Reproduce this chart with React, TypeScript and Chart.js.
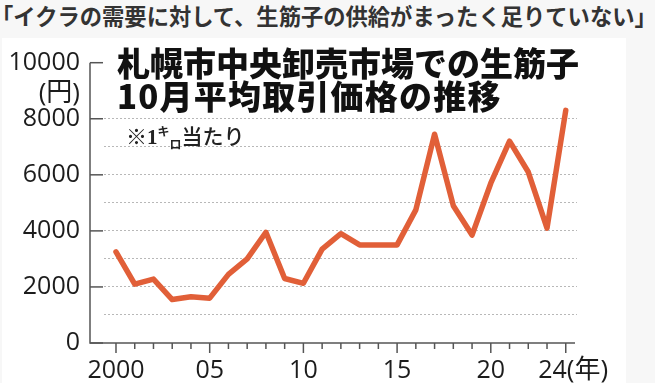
import React, { useEffect, useLayoutEffect, useRef } from 'react';
import { Chart, registerables } from 'chart.js';

Chart.register(...registerables);

// ---- data ----
const years = [2000, 2001, 2002, 2003, 2004, 2005, 2006, 2007, 2008, 2009, 2010, 2011, 2012, 2013, 2014, 2015, 2016, 2017, 2018, 2019, 2020, 2021, 2022, 2023, 2024];
const prices = [3250, 2100, 2280, 1550, 1650, 1600, 2450, 3000, 3950, 2300, 2130, 3350, 3900, 3500, 3500, 3500, 4750, 7450, 4900, 3850, 5700, 7200, 6100, 4100, 8300];
const yTickValues = [0, 2000, 4000, 6000, 8000, 10000];
const yTickLabels = ['0', '2000', '4000', '6000', '8000', '10000'];
const xMajorYears = [2000, 2005, 2010, 2015, 2020, 2024];
const xTickLabels = ['2000', '05', '10', '15', '20', '24'];
const yUnit = '(円)';
const xUnit = '(年)';
const headerText = '「イクラの需要に対して、生筋子の供給がまったく足りていない」';
const titleLines = ['札幌市中央卸売市場での生筋子', '10月平均取引価格の推移'];

const LINE_COLOR = '#e15f38';
const AXIS_COLOR = '#555555';
const LABEL_FONT = "'Open Sans', 'Noto Sans CJK JP', sans-serif";

const axesPlugin = {
  id: 'customAxes',
  beforeDatasetsDraw(chart: any) {
    const ctx = chart.ctx;
    const xs = chart.scales.x;
    const ys = chart.scales.y;
    const x0 = 90;
    const xEnd = 575;
    const yZero = ys.getPixelForValue(0);
    const yTop = ys.getPixelForValue(10000);
    ctx.save();
    ctx.strokeStyle = AXIS_COLOR;
    ctx.lineWidth = 1.5;
    ctx.beginPath();
    ctx.moveTo(x0, yTop);
    ctx.lineTo(x0, yZero);
    ctx.lineTo(xEnd, yZero);
    ctx.stroke();
    // y ticks
    yTickValues.forEach((v) => {
      const y = ys.getPixelForValue(v);
      ctx.beginPath();
      ctx.moveTo(x0, y);
      ctx.lineTo(x0 + 13, y);
      ctx.stroke();
    });
    // x ticks
    for (let yr = years[0]; yr <= years[years.length - 1]; yr++) {
      const x = xs.getPixelForValue(yr);
      const major = xMajorYears.includes(yr);
      ctx.beginPath();
      ctx.moveTo(x, yZero);
      ctx.lineTo(x, yZero + (major ? 10 : 6));
      ctx.stroke();
    }
    ctx.restore();
  },
  afterDraw(chart: any) {
    const ctx = chart.ctx;
    const xs = chart.scales.x;
    const ys = chart.scales.y;
    ctx.save();
    ctx.fillStyle = '#1c1c1c';
    ctx.font = `25px ${LABEL_FONT}`;
    ctx.textAlign = 'right';
    ctx.textBaseline = 'middle';
    yTickValues.forEach((v, i) => {
      ctx.fillText(yTickLabels[i], 80, ys.getPixelForValue(v));
    });
    ctx.font = `26px ${LABEL_FONT}`;
    ctx.fillText(yUnit, 80, 94);
    ctx.textBaseline = 'alphabetic';
    ctx.font = `25px ${LABEL_FONT}`;
    const labelY = 378;
    xMajorYears.forEach((yr, i) => {
      const x = xs.getPixelForValue(yr);
      if (i === xMajorYears.length - 1) {
        ctx.textAlign = 'right';
        ctx.fillText(xTickLabels[i], x + 1, labelY);
        ctx.textAlign = 'left';
        ctx.font = `26px ${LABEL_FONT}`;
        ctx.fillText(xUnit, x + 1, labelY);
        ctx.font = `25px ${LABEL_FONT}`;
      } else {
        ctx.textAlign = 'center';
        ctx.fillText(xTickLabels[i], x, labelY);
      }
    });
    ctx.restore();
  },
};

export default function App() {
  const canvasRef = useRef<HTMLCanvasElement | null>(null);

  useLayoutEffect(() => {
    document.body.style.margin = '0';
  }, []);

  useEffect(() => {
    const canvas = canvasRef.current;
    if (!canvas) return;
    const chart = new Chart(canvas, {
      type: 'line',
      data: {
        datasets: [
          {
            data: years.map((y, i) => ({ x: y, y: prices[i] })),
            borderColor: LINE_COLOR,
            borderWidth: 5.5,
            pointRadius: 0,
            tension: 0,
            borderJoinStyle: 'round',
            borderCapStyle: 'round',
            clip: false as any,
          },
        ],
      },
      options: {
        animation: false,
        responsive: false,
        devicePixelRatio: 1,
        layout: { padding: { left: 104, right: 78, top: 62.7, bottom: 40 } },
        plugins: { legend: { display: false }, tooltip: { enabled: false }, title: { display: false } },
        scales: {
          x: { type: 'linear', display: false, min: 1999.36, max: 2024.6 },
          y: {
            type: 'linear',
            min: 0,
            max: 10000,
            ticks: { display: false, stepSize: 1000 },
            grid: {
              drawTicks: false,
              lineWidth: 1,
              color: (c: any) => {
                const v = c.tick ? c.tick.value : 0;
                return v >= 1000 && v <= 8000 ? '#b8b8b8' : 'rgba(0,0,0,0)';
              },
            },
            border: { display: false, dash: [2, 2] },
          },
        },
      },
      plugins: [axesPlugin],
    });
    return () => chart.destroy();
  }, []);

  return (
    <div style={{ position: 'relative', width: 655, height: 383, background: '#f7f7f7', overflow: 'hidden' }}>
      <div style={{ position: 'absolute', left: 2, top: 38, width: 624, height: 345, background: '#ffffff' }} />
      <div
        style={{
          position: 'absolute',
          left: -9,
          top: 0,
          fontFamily: "'Noto Sans CJK JP', sans-serif",
          fontWeight: 700,
          fontSize: 22.3,
          lineHeight: '30px',
          color: '#333333',
          whiteSpace: 'nowrap',
        }}
      >
        {headerText}
      </div>
      <canvas ref={canvasRef} width={655} height={383} style={{ position: 'absolute', left: 0, top: 0, width: 655, height: 383 }} />
      <div
        style={{
          position: 'absolute',
          left: 117,
          top: 46,
          fontFamily: "'Noto Sans CJK JP', sans-serif",
          fontWeight: 900,
          fontSize: 33,
          lineHeight: '33.3px',
          color: '#111111',
          whiteSpace: 'nowrap',
        }}
      >
        <div>{titleLines[0]}</div>
        <div style={{ letterSpacing: '1.2px' }}>{titleLines[1]}</div>
      </div>
      <div
        style={{
          position: 'absolute',
          left: 126,
          top: 119,
          fontFamily: "'Liberation Serif', 'DejaVu Serif', 'Noto Sans CJK JP', serif",
          fontWeight: 700,
          fontSize: 21,
          lineHeight: '26px',
          color: '#222222',
          whiteSpace: 'nowrap',
        }}
      >
        <span>※1</span>
        <span style={{ fontSize: 12, verticalAlign: 'super' }}>キ</span>
        <span style={{ fontSize: 12, verticalAlign: 'sub' }}>ロ</span>
        <span style={{ fontFamily: "'Noto Sans CJK JP', sans-serif", fontWeight: 500 }}>当たり</span>
      </div>
    </div>
  );
}
